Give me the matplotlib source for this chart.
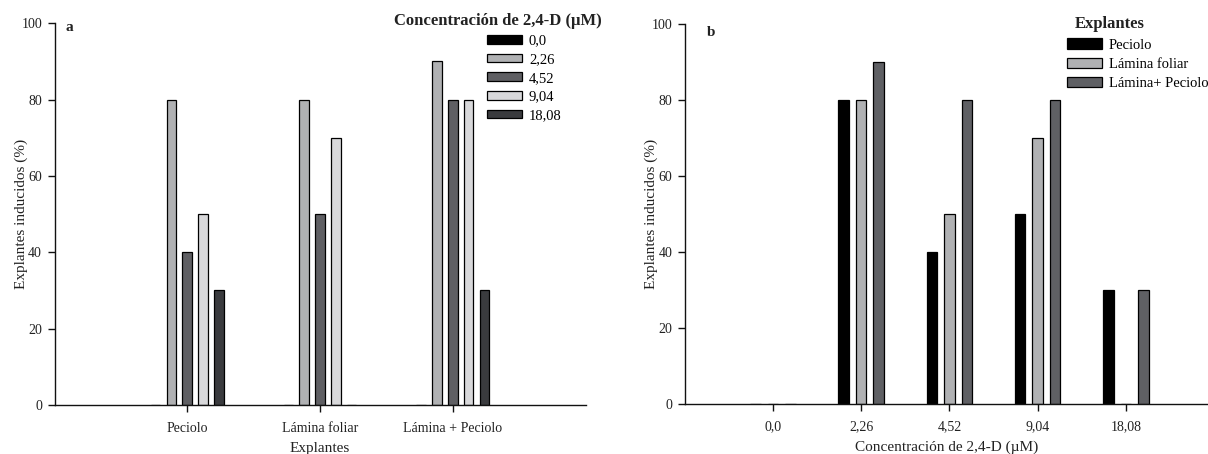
import matplotlib
matplotlib.use("Agg")
import matplotlib.pyplot as plt
import numpy as np

plt.rcParams['font.family'] = ['Liberation Serif', 'DejaVu Serif']

# ---------------- data ----------------
explantes = ["Peciolo", "Lámina foliar", "Lámina + Peciolo"]
concentraciones = ["0,0", "2,26", "4,52", "9,04", "18,08"]

# panel a: rows = concentration series, columns = explant type
conc_00 = [0, 0, 0]
conc_226 = [80, 80, 90]
conc_452 = [40, 50, 80]
conc_904 = [50, 70, 80]
conc_1808 = [30, 0, 30]

# panel b: series = explant type, values over concentrations
peciolo = [0, 80, 40, 50, 30]
lamina_foliar = [0, 80, 50, 70, 0]
lamina_peciolo = [0, 90, 80, 80, 30]
legend_b = ["Peciolo", "Lámina foliar", "Lámina+ Peciolo"]

yticks = [0, 20, 40, 60, 80, 100]

colors_a = ["#000000", "#b0b1b3", "#5f5f63", "#d8d8da", "#3a3b3e"]
colors_b = ["#000000", "#b0b1b3", "#5f6064"]

W, H = 1208, 454
fig = plt.figure(figsize=(W / 100, H / 100), dpi=100)

def fx(px):
    return px / W

def fy(py):
    return 1 - py / H

text_col = "#222222"

def style(ax):
    for s in ["top", "right"]:
        ax.spines[s].set_visible(False)
    for s in ["left", "bottom"]:
        ax.spines[s].set_linewidth(1.0)
        ax.spines[s].set_color("#111111")
    ax.tick_params(direction="out", length=5, width=1, labelsize=10,
                   colors="#111111", labelcolor=text_col)
    ax.tick_params(axis="x", pad=7)
    ax.tick_params(axis="y", pad=4)
    ax.set_ylim(0, 100)
    ax.set_yticks(yticks)
    ax.set_yticklabels([str(v) for v in yticks])

# ---------------- panel a ----------------
ax1 = fig.add_axes([fx(54.5), fy(405), fx(585.5 - 54.5), (405 - 23.3) / H])
style(ax1)
series_a = [conc_00, conc_226, conc_452, conc_904, conc_1808]
xa = np.arange(1, len(explantes) + 1)
handles_a = []
for i, (vals, c) in enumerate(zip(series_a, colors_a)):
    h = ax1.bar(xa + (i - 2) * 0.119, vals, width=0.072, color=c,
                edgecolor="#000000", linewidth=0.9, label=concentraciones[i])
    handles_a.append(h)
ax1.set_xlim(0, 4)
ax1.set_xticks(xa)
ax1.set_xticklabels(explantes)
ax1.set_xlabel("Explantes", fontsize=11, color=text_col, labelpad=5)
ax1.set_ylabel("Explantes inducidos (%)", fontsize=11, color=text_col, labelpad=-5)
ax1.legend(handles=handles_a, loc="upper left",
           bbox_to_anchor=(fx(486.7), fy(34.5)), bbox_transform=fig.transFigure,
           frameon=False, fontsize=10.5, handlelength=2.4, handleheight=0.55,
           handletextpad=0.5, labelspacing=0.39, borderpad=0, borderaxespad=0)
fig.text(fx(498), fy(20.7), "Concentración de 2,4-D (µM)", fontsize=12,
         fontweight="bold", ha="center", va="center", color=text_col)
fig.text(fx(69), fy(27.7), "a", fontsize=11, fontweight="bold",
         ha="center", va="center", color=text_col)

# ---------------- panel b ----------------
ax2 = fig.add_axes([fx(684.8), fy(404), 1 - fx(684.8), (404 - 24) / H])
style(ax2)
series_b = [peciolo, lamina_foliar, lamina_peciolo]
xb = np.arange(1, len(concentraciones) + 1)
handles_b = []
for j, (vals, c) in enumerate(zip(series_b, colors_b)):
    h = ax2.bar(xb + (j - 1) * 0.198, vals, width=0.12, color=c,
                edgecolor="#000000", linewidth=0.9, label=legend_b[j])
    handles_b.append(h)
ax2.set_xlim(0, (W - 684.8) / 88.2)
ax2.set_xticks(xb)
ax2.set_xticklabels(concentraciones)
ax2.set_xlabel("Concentración de 2,4-D (µM)", fontsize=11, color=text_col, labelpad=5)
ax2.set_ylabel("Explantes inducidos (%)", fontsize=11, color=text_col, labelpad=-5)
ax2.legend(handles=handles_b, loc="upper left",
           bbox_to_anchor=(fx(1066.7), fy(38.5)), bbox_transform=fig.transFigure,
           frameon=False, fontsize=10.5, handlelength=2.4, handleheight=0.7,
           handletextpad=0.5, labelspacing=0.42, borderpad=0, borderaxespad=0)
fig.text(fx(1110), fy(24), "Explantes", fontsize=12, fontweight="bold",
         ha="center", va="center", color=text_col)
fig.text(fx(711), fy(32.3), "b", fontsize=11, fontweight="bold",
         ha="center", va="center", color=text_col)

fig.savefig("out.png", dpi=100, facecolor="white")
